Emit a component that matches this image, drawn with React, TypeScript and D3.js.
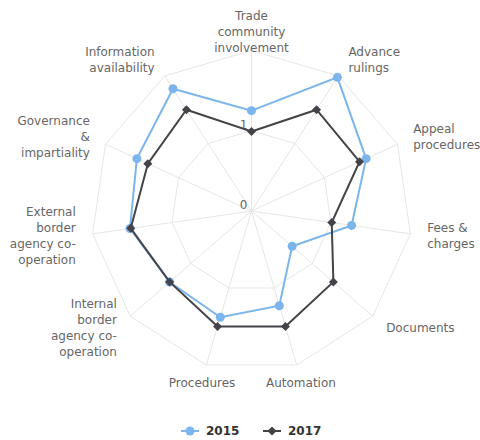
import React, { useEffect, useRef } from 'react';
import * as d3 from 'd3';

// axis names, "|" marks where the label wraps
const categories = [
  'Trade|community|involvement',
  'Advance|rulings',
  'Appeal|procedures',
  'Fees &|charges',
  'Documents',
  'Automation',
  'Procedures',
  'Internal|border|agency co-|operation',
  'External|border|agency co-|operation',
  'Governance|&|impartiality',
  'Information|availability',
];

const values2015 = [1.25, 1.98, 1.57, 1.26, 0.67, 1.23, 1.38, 1.35, 1.53, 1.57, 1.81];
const values2017 = [0.99, 1.5, 1.48, 1.01, 1.35, 1.5, 1.5, 1.35, 1.52, 1.42, 1.5];

const gridLevels = [1, 2];
const tickLabels = [0, 1];

const seriesList = [
  { name: '2015', values: values2015, color: '#7cb5ec', symbol: 'circle' },
  { name: '2017', values: values2017, color: '#434348', symbol: 'diamond' },
];

const App = () => {
  const svgRef = useRef<SVGSVGElement>(null);

  useEffect(() => {
    const width = 480;
    const height = 440;
    const cx = 251.5;
    const cy = 211;
    const outer = 160.5;
    const n = categories.length;
    const font = '"DejaVu Sans", Arial, sans-serif';

    const svg = d3.select(svgRef.current);
    svg.selectAll('*').remove();
    svg.attr('width', width).attr('height', height);

    const r = d3.scaleLinear().domain([0, 2]).range([0, outer]);
    const angle = d3.scaleLinear().domain([0, n]).range([0, 2 * Math.PI]);

    const g = svg.append('g').attr('transform', `translate(${cx},${cy})`);

    // grid polygons
    const gridLine = d3.lineRadial<number>()
      .angle((_, i) => angle(i))
      .radius(d => r(d))
      .curve(d3.curveLinearClosed);

    gridLevels.forEach(level => {
      g.append('path')
        .attr('d', gridLine(categories.map(() => level)))
        .attr('fill', 'none')
        .attr('stroke', '#e6e6e6')
        .attr('stroke-width', 1);
    });

    // spokes
    categories.forEach((_, i) => {
      const a = angle(i);
      g.append('line')
        .attr('x1', 0).attr('y1', 0)
        .attr('x2', Math.sin(a) * r(2))
        .attr('y2', -Math.cos(a) * r(2))
        .attr('stroke', '#e6e6e6')
        .attr('stroke-width', 1);
    });

    // radial tick labels
    tickLabels.forEach(t => {
      g.append('text')
        .attr('x', -4)
        .attr('y', -r(t) - 6)
        .attr('text-anchor', 'end')
        .attr('dominant-baseline', 'central')
        .attr('font-family', font)
        .attr('font-size', 12)
        .attr('fill', '#666')
        .text(t);
    });

    // category labels
    categories.forEach((c, i) => {
      const a = angle(i);
      const s = Math.sin(a);
      const co = Math.cos(a);
      const px = s * (outer + 15);
      const py = -co * (outer + 15);
      const lines = c.split('|');
      let anchor = 'middle';
      let x = px;
      if (s > 0.3) { anchor = 'start'; x = px + 2; }
      else if (s < -0.3) { anchor = 'end'; x = px - 2; }
      const center = py - 3.5 * co;
      const lh = 16;
      const top = center - ((lines.length - 1) * lh) / 2;
      const txt = g.append('text')
        .attr('text-anchor', anchor)
        .attr('font-family', font)
        .attr('font-size', 12)
        .attr('fill', '#666');
      lines.forEach((l, j) => {
        txt.append('tspan')
          .attr('x', x)
          .attr('y', top + j * lh)
          .attr('dominant-baseline', 'central')
          .text(l);
      });
    });

    // series
    const line = d3.lineRadial<number>()
      .angle((_, i) => angle(i))
      .radius(d => r(d))
      .curve(d3.curveLinearClosed);

    const diamond = (x: number, y: number, s: number) =>
      `M${x},${y - s}L${x + s},${y}L${x},${y + s}L${x - s},${y}Z`;

    seriesList.forEach(sr => {
      g.append('path')
        .attr('d', line(sr.values))
        .attr('fill', 'none')
        .attr('stroke', sr.color)
        .attr('stroke-width', 2);

      sr.values.forEach((v, i) => {
        const a = angle(i);
        const x = Math.sin(a) * r(v);
        const y = -Math.cos(a) * r(v);
        if (sr.symbol === 'circle') {
          g.append('circle').attr('cx', x).attr('cy', y).attr('r', 4.5).attr('fill', sr.color);
        } else {
          g.append('path').attr('d', diamond(x, y, 4.5)).attr('fill', sr.color);
        }
      });
    });

    // legend
    const legendY = 431;
    const legendItems = [
      { x: 181, textX: 206 },
      { x: 263, textX: 288 },
    ];
    seriesList.forEach((sr, i) => {
      const it = legendItems[i];
      const lg = svg.append('g');
      lg.append('line')
        .attr('x1', it.x).attr('x2', it.x + 18)
        .attr('y1', legendY).attr('y2', legendY)
        .attr('stroke', sr.color).attr('stroke-width', 2);
      const mx = it.x + 9;
      if (sr.symbol === 'circle') {
        lg.append('circle').attr('cx', mx).attr('cy', legendY).attr('r', 4.5).attr('fill', sr.color);
      } else {
        lg.append('path').attr('d', diamond(mx, legendY, 4.5)).attr('fill', sr.color);
      }
      lg.append('text')
        .attr('x', it.textX)
        .attr('y', legendY)
        .attr('dominant-baseline', 'central')
        .attr('font-family', font)
        .attr('font-size', 12)
        .attr('font-weight', 'bold')
        .attr('fill', '#333')
        .text(sr.name);
    });
  }, []);

  return (
    <svg ref={svgRef} style={{ position: 'absolute', left: 0, top: 0, background: '#fff' }} />
  );
};

export default App;
